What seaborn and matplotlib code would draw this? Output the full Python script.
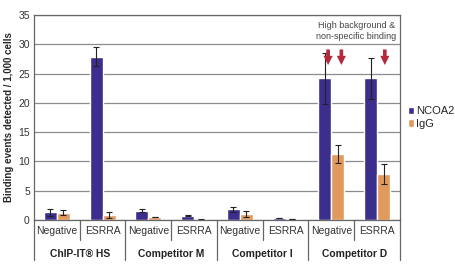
import pandas as pd
import seaborn as sns
import matplotlib.pyplot as plt
import matplotlib.transforms as mtransforms

groups = ['ChIP-IT® HS', 'Competitor M', 'Competitor I', 'Competitor D']
targets = ['Negative', 'ESRRA']
ncoa2 = [1.3, 27.9, 1.6, 0.75, 1.8, 0.3, 24.2, 24.2]
ncoa2_err = [0.55, 1.65, 0.3, 0.1, 0.4, 0.05, 4.4, 3.5]
igg = [1.25, 0.9, 0.5, 0.1, 1.0, 0.15, 11.3, 7.85]
igg_err = [0.4, 0.5, 0.08, 0.03, 0.5, 0.03, 1.5, 1.7]

keys = [g + '|' + t for g in groups for t in targets]
df = pd.DataFrame({
    'cond': keys * 2,
    'value': ncoa2 + igg,
    'Antibody': ['NCOA2'] * 8 + ['IgG'] * 8,
})
errs = {'NCOA2': ncoa2_err, 'IgG': igg_err}

sns.set_theme(style="white")
plt.rcParams['font.family'] = ['Liberation Sans Narrow', 'Liberation Sans', 'DejaVu Sans']

fig = plt.figure(figsize=(4.56, 2.65), dpi=100)
ax = fig.add_axes([0.0746, 0.17, 0.877 - 0.0746, 0.943 - 0.17])

pal = {'NCOA2': '#3b2e8c', 'IgG': '#e29a5c'}
sns.barplot(data=df, x='cond', y='value', hue='Antibody', order=keys,
            palette=pal, width=0.57, errorbar=None, ax=ax, saturation=1)

# error bars from the bar positions
for cont, name in zip(ax.containers, ['NCOA2', 'IgG']):
    xs = [b.get_x() + b.get_width() / 2 for b in cont]
    hs = [b.get_height() for b in cont]
    ax.errorbar(xs, hs, yerr=errs[name], fmt='none', ecolor='#222222',
                elinewidth=0.8, capsize=2.2, capthick=0.8)

ax.set_ylim(0, 35)
ax.set_xlim(-0.5, 7.5)
ax.set_yticks(range(0, 36, 5))
ax.yaxis.grid(True, color='#8c8c8c', linewidth=0.9)
ax.set_axisbelow(True)
for s in ax.spines.values():
    s.set_color('#666666')
    s.set_linewidth(0.9)
ax.tick_params(axis='y', labelsize=7.5, pad=3, length=0, colors='#333333')
ax.set_xticks(range(8))
ax.set_xticklabels(targets * 4, fontsize=7.5, color='#333333')
ax.tick_params(axis='x', length=0, pad=4)
ax.set_xlabel('')
ax.set_ylabel('Binding events detected / 1,000 cells', fontsize=7,
              fontweight='bold', labelpad=3)

# group labels and separators below the axis
trans = mtransforms.blended_transform_factory(ax.transData, ax.transAxes)
for i, g in enumerate(groups):
    ax.text(2 * i + 0.5, -0.165, g, transform=trans, ha='center', va='center',
            fontsize=7.4, fontweight='bold', color='#222222')
for k in range(9):
    xpos = k - 0.5
    ybot = -0.195 if k % 2 == 0 else -0.098
    ax.plot([xpos, xpos], [0, ybot], transform=trans, color='#666666',
            linewidth=0.9, clip_on=False)

# annotation with arrows
for xa in [5.93, 6.22, 7.17]:
    ax.annotate('', xy=(xa, 26.0), xytext=(xa, 29.6),
                arrowprops=dict(arrowstyle='simple,head_width=0.55,head_length=0.55,tail_width=0.22',
                                color='#b3283c', lw=0))
ax.text(6.55, 32.3, 'High background &\nnon-specific binding', ha='center',
        va='center', fontsize=6.5, color='#444444', linespacing=1.35)

ax.legend(loc='center left', bbox_to_anchor=(1.0, 0.5), frameon=False,
          fontsize=8, handlelength=0.6, handleheight=0.6, handletextpad=0.12,
          labelspacing=0.25, borderaxespad=0.3)

fig.savefig('out.png', dpi=100)
